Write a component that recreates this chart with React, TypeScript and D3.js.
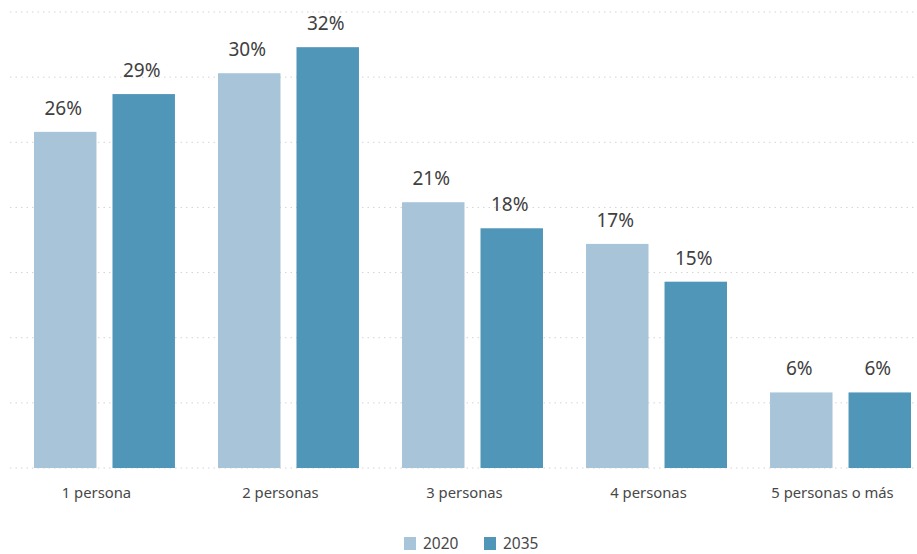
import * as d3 from 'd3';
import React from 'react';

const categories = ['1 persona', '2 personas', '3 personas', '4 personas', '5 personas o más'];
const years = ['2020', '2035'];
const values2020 = [25.8, 30.3, 20.4, 17.2, 5.8];
const values2035 = [28.7, 32.3, 18.4, 14.3, 5.8];
const labels2020 = ['26%', '30%', '21%', '17%', '6%'];
const labels2035 = ['29%', '32%', '18%', '15%', '6%'];
const yTicks = [0, 5, 10, 15, 20, 25, 30, 35];

const colors: Record<string, string> = { '2020': '#a7c4d9', '2035': '#5096b8' };
const font = '"Noto Sans", "Open Sans", sans-serif';

const App: React.FC = () => {
  const width = 917;
  const height = 554;

  const x0 = d3.scaleBand<string>().domain(categories).range([34, 911]).paddingInner(0.234).paddingOuter(0);
  const x1 = d3.scaleBand<string>().domain(years).range([0, x0.bandwidth()]).paddingInner(0.204);
  const y = d3.scaleLinear().domain([0, 35]).range([468, 12]);

  const series = [
    { year: '2020', values: values2020, labels: labels2020 },
    { year: '2035', values: values2035, labels: labels2035 },
  ];

  const legendX = d3.scalePoint<string>().domain(years).range([404, 484]);

  return (
    <svg
      width={width}
      height={height}
      style={{ position: 'absolute', left: 0, top: 0, fontFamily: font }}
    >
      <rect width={width} height={height} fill="#fff" />
      {/* gridlines */}
      {yTicks.map((t) => (
        <line
          key={t}
          x1={10}
          x2={917}
          y1={y(t)}
          y2={y(t)}
          stroke="#d4d4d4"
          strokeWidth={1}
          strokeDasharray="1.5,4"
        />
      ))}
      {/* bars */}
      {series.map((s) =>
        categories.map((c, i) => {
          const bx = (x0(c) ?? 0) + (x1(s.year) ?? 0);
          return (
            <g key={s.year + c}>
              <rect
                x={bx}
                y={y(s.values[i])}
                width={x1.bandwidth()}
                height={y(0) - y(s.values[i])}
                fill={colors[s.year]}
              />
              <text
                x={bx + x1.bandwidth() / 2 - 2}
                y={y(s.values[i]) - 17}
                textAnchor="middle"
                fontSize={19}
                fill="#404040"
              >
                {s.labels[i]}
              </text>
            </g>
          );
        })
      )}
      {/* x axis labels */}
      {categories.map((c) => (
        <text
          key={c}
          x={(x0(c) ?? 0) + x0.bandwidth() / 2 - 8}
          y={498}
          textAnchor="middle"
          fontSize={14.8}
          fill="#484848"
        >
          {c}
        </text>
      ))}
      {/* legend */}
      {years.map((yr) => (
        <g key={yr} transform={`translate(${legendX(yr)},537)`}>
          <rect width={12} height={13} fill={colors[yr]} />
          <text x={19} y={12} fontSize={15.5} fill="#484848">
            {yr}
          </text>
        </g>
      ))}
    </svg>
  );
};

export default App;
